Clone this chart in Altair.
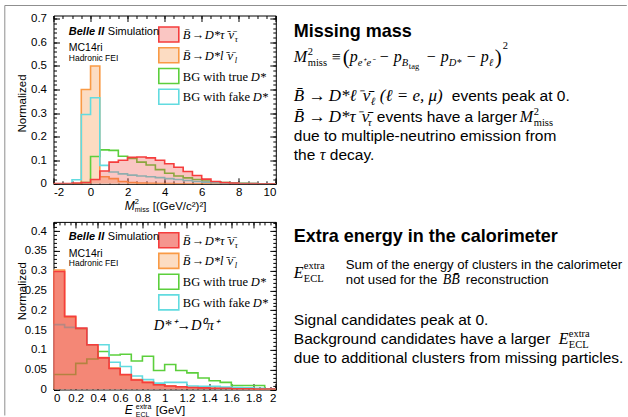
import altair as alt
import pandas as pd

SANS = "Liberation Sans"
SERIF = "Liberation Serif"

# ---------------- data: M^2_miss panel ----------------
m2_edges = [-2.0, -1.5, -1.0, -0.5, 0.0, 0.5, 1.0, 1.5, 2.0, 2.5, 3.0, 3.5,
            4.0, 4.5, 5.0, 5.5, 6.0, 6.5, 7.0, 7.5, 8.0, 8.5, 9.0, 9.5, 10.0]
m2_tau = [0.001, 0.001, 0.003, 0.005, 0.018, 0.054, 0.092, 0.100, 0.112, 0.114, 0.110, 0.100,
          0.085, 0.070, 0.052, 0.035, 0.020, 0.010, 0.005, 0.003, 0.001, 0.001, 0.0, 0.0]
m2_ell = [0.0, 0.0, 0.0, 0.400, 0.500, 0.030, 0.022, 0.010, 0.005, 0.003, 0.002, 0.001,
          0.001, 0.0, 0.0, 0.0, 0.0, 0.0, 0.0, 0.0, 0.0, 0.0, 0.0, 0.0]
m2_true = [0.0, 0.0, 0.0, 0.005, 0.116, 0.144, 0.142, 0.117, 0.108, 0.092, 0.080, 0.060,
           0.045, 0.033, 0.025, 0.018, 0.012, 0.008, 0.005, 0.003, 0.002, 0.001, 0.0, 0.0]
m2_fake = [0.0, 0.0, 0.017, 0.294, 0.365, 0.078, 0.050, 0.042, 0.037, 0.033, 0.030, 0.026,
           0.022, 0.018, 0.014, 0.010, 0.007, 0.005, 0.003, 0.002, 0.001, 0.001, 0.0, 0.0]
m2_xticks = [-2, 0, 2, 4, 6, 8, 10]
m2_yticks = [0, 0.1, 0.2, 0.3, 0.4, 0.5, 0.6, 0.7]

# ---------------- data: E_ECL^extra panel ----------------
e_edges = [0.0, 0.1, 0.2, 0.3, 0.4, 0.5, 0.6, 0.7, 0.8, 0.9, 1.0,
           1.1, 1.2, 1.3, 1.4, 1.5, 1.6, 1.7, 1.8, 1.9, 2.0]
e_tau = [0.298, 0.185, 0.155, 0.113, 0.080, 0.053, 0.038, 0.024, 0.018, 0.012,
         0.009, 0.007, 0.005, 0.004, 0.003, 0.003, 0.002, 0.002, 0.001, 0.001]
e_ell = [0.302, 0.183, 0.153, 0.112, 0.081, 0.054, 0.037, 0.025, 0.018, 0.012,
         0.009, 0.007, 0.005, 0.004, 0.003, 0.003, 0.002, 0.002, 0.001, 0.001]
e_true = [0.038, 0.038, 0.066, 0.077, 0.096, 0.087, 0.089, 0.072, 0.084, 0.048,
          0.063, 0.048, 0.042, 0.029, 0.022, 0.018, 0.010, 0.010, 0.010, 0.002]
e_fake = [0.164, 0.157, 0.154, 0.113, 0.113, 0.069, 0.058, 0.034, 0.025, 0.016,
          0.018, 0.018, 0.009, 0.008, 0.008, 0.006, 0.005, 0.004, 0.003, 0.002]
e_xticks = [0, 0.2, 0.4, 0.6, 0.8, 1, 1.2, 1.4, 1.6, 1.8, 2]
e_yticks = [0, 0.05, 0.1, 0.15, 0.2, 0.25, 0.3, 0.35, 0.4]

RED, ORANGE, GREEN, CYAN = "#f53d3d", "#f99a45", "#5ccf3c", "#62dbe0"
RED_FILL, ORANGE_FILL = "#ef4f43", "#fcdcc2"

OX = 52.7       # left edge of both plot areas (page px)
W = 222.3
ONE = pd.DataFrame({"d": [0]})


def area_df(edges, vals):
    xs = list(edges[:-1]) + [edges[-1]]
    ys = list(vals) + [vals[-1]]
    return pd.DataFrame({"x": xs, "y": ys})


def line_df(edges, vals):
    xs, ys = [edges[0]], [0.0]
    for i, v in enumerate(vals):
        xs += [edges[i], edges[i + 1]]
        ys += [v, v]
    xs.append(edges[-1]); ys.append(0.0)
    return pd.DataFrame({"i": list(range(len(xs))), "x": xs, "y": ys})


def panel(oy, H, edges, ser, xdom, ydom, xmaj, xmin, ymaj, ymin, xexpr,
          texts, boxes, red_op, extra=()):
    rx = lambda x: x - OX
    ry = lambda y: y - oy
    xs = alt.Scale(domain=xdom, nice=False, zero=False)
    ys = alt.Scale(domain=ydom, nice=False, zero=False)
    tau, ell, true, fake = ser
    L = []

    def area(vals, fill, op):
        return alt.Chart(area_df(edges, vals)).mark_area(
            interpolate="step-after", fill=fill, fillOpacity=op, clip=True).encode(
            x=alt.X("x:Q", scale=xs, axis=None), y=alt.Y("y:Q", scale=ys, axis=None))

    def line(vals, col):
        return alt.Chart(line_df(edges, vals)).mark_line(
            stroke=col, strokeWidth=1.6, clip=True).encode(
            x=alt.X("x:Q", scale=xs, axis=None), y=alt.Y("y:Q", scale=ys, axis=None),
            order="i:Q")

    L.append(area(ell, ORANGE_FILL, 1.0))
    L.append(line(ell, ORANGE))
    L.append(line(true, GREEN))
    L.append(line(fake, CYAN))
    L.append(area(tau, RED_FILL, red_op))
    L.append(line(tau, RED))

    # axes with inward ticks (ROOT style)
    adf = pd.DataFrame({"x": [xdom[0]], "y": [ydom[0]]})

    def axl(xo, yo, xv, yv, size, labels):
        common = dict(tickSize=size, offset=-size, domain=False, grid=False, title=None,
                      tickColor="black", tickWidth=1, labels=labels,
                      labelFont=SANS, labelFontSize=11.5, labelColor="black")
        xa = alt.Axis(orient=xo, values=xv, labelPadding=3, labelExpr=xexpr,
                      labelOverlap=False, **common)
        ya = alt.Axis(orient=yo, values=yv, labelPadding=7, format="~g",
                      labelOverlap=False, **common)
        return alt.Chart(adf).mark_point(opacity=0).encode(
            x=alt.X("x:Q", scale=xs, axis=xa), y=alt.Y("y:Q", scale=ys, axis=ya))

    L.append(axl("bottom", "left", xmaj, ymaj, 6, True))
    L.append(axl("bottom", "left", xmin, ymin, 3, False))
    L.append(axl("top", "right", xmaj, ymaj, 6, False))
    L.append(axl("top", "right", xmin, ymin, 3, False))

    # legend boxes
    for (x1, y1, x2, y2, fill, fop, stroke) in boxes:
        L.append(alt.Chart(ONE).mark_rect(fill=fill, fillOpacity=fop, stroke=stroke,
                                          strokeWidth=1.6).encode(
            x=alt.value(rx(x1)), x2=alt.value(rx(x2)), y=alt.value(ry(y1)), y2=alt.value(ry(y2))))

    for e in extra:
        L.append(e(rx, ry))

    for t in texts:
        s, x, y, size = t[:4]
        o = dict(font=SANS, fontStyle="normal", fontWeight="normal", align="left",
                 baseline="alphabetic", angle=0)
        if len(t) > 4:
            o.update(t[4])
        L.append(alt.Chart(ONE).mark_text(text=s, fontSize=size, color="black", **o).encode(
            x=alt.value(rx(x)), y=alt.value(ry(y))))

    return alt.layer(*L).resolve_axis(x="independent", y="independent").properties(
        width=W, height=H)


IT = {"font": SERIF, "fontStyle": "italic"}
RM = {"font": SERIF}
BI = {"fontStyle": "italic", "fontWeight": "bold"}
BOLD = {"fontWeight": "bold"}
ROT = {"angle": 270, "align": "center", "baseline": "middle"}


def legend_texts(b):
    # b = baseline of first row; spacing 20.7
    r = [b, b + 20.7, b + 41.5, b + 62.2]
    return [
        ("B\u0304", 182, r[0], 12.5, IT), ("\u2192", 191, r[0], 12.5, RM),
        ("D*\u03c4\u207b\u03bd\u0304", 204, r[0], 12.5, IT), ("\u03c4", 234, r[0] + 3, 8.5, IT),
        ("B\u0304", 182, r[1], 12.5, IT), ("\u2192", 191, r[1], 12.5, RM),
        ("D*l\u207b\u03bd\u0304", 204, r[1], 12.5, IT), ("l", 234, r[1] + 3, 8.5, IT),
        ("BG with true", 182, r[2], 12.5, RM), ("D*", 250, r[2], 12.5, IT),
        ("BG with fake", 182, r[3], 12.5, RM), ("D*", 252, r[3], 12.5, IT),
    ]


def legend_boxes(t, fill_op):
    r = [t, t + 20.7, t + 41.5, t + 62.2]
    return [
        (158, r[0], 178, r[0] + 15, RED_FILL, fill_op, RED),
        (158, r[1], 178, r[1] + 15, ORANGE_FILL, 1.0, ORANGE),
        (158, r[2], 178, r[2] + 15, "white", 1.0, GREEN),
        (158, r[3], 178, r[3] + 15, "white", 1.0, CYAN),
    ]


def sim_texts(b):
    return [
        ("Belle II", 68, b, 11, BI), ("Simulation", 107, b, 11),
        ("MC14ri", 68, b + 16.5, 10.5), ("Hadronic FEI", 68, b + 26, 8.5),
    ]


# ---- top panel texts ----
top_texts = sim_texts(34) + legend_texts(38.5) + [
    ("Normalized", 22, 103, 11.5, ROT),
    ("M", 124, 209, 12, {"fontStyle": "italic"}), ("2", 134, 203.5, 7.5),
    ("miss", 134, 212, 7), ("[(GeV/c\u00b2)\u00b2]", 152, 209, 11.5),
    # right-hand text
    ("Missing mass", 293, 36, 18, BOLD),
    ("M", 293, 61, 16, IT), ("2", 307, 54, 10.5, RM), ("miss", 307, 65, 10.5, RM),
    ("\u2261", 331, 61, 16, RM), ("(", 342, 63, 21, RM),
    ("p", 349, 61, 16, IT), ("e\u207ae\u207b", 357, 65, 10.5, IT),
    ("\u2212", 379, 61, 16, RM), ("p", 393, 61, 16, IT),
    ("B", 401, 65, 10.5, IT), ("tag", 408, 68, 8.5, RM),
    ("\u2212", 426, 61, 16, RM), ("p", 440, 61, 16, IT), ("D*", 448, 65, 10.5, IT),
    ("\u2212", 466, 61, 16, RM), ("p", 480, 61, 16, IT), ("\u2113", 488, 65, 10.5, IT),
    (")", 494, 63, 21, RM), ("2", 502, 48, 10.5, RM),
    ("B\u0304", 293, 100, 17, IT), ("\u2192", 308, 100, 17, RM),
    ("D*\u2113\u207b\u03bd\u0304", 328, 100, 17, IT), ("\u2113", 370, 104, 11, IT),
    ("(\u2113 = e, \u03bc)", 379, 100, 17, IT), ("events peak at 0.", 451, 100, 15.5),
    ("B\u0304", 293, 121, 17, IT), ("\u2192", 308, 121, 17, RM),
    ("D*\u03c4\u207b\u03bd\u0304", 328, 121, 17, IT), ("\u03c4", 367, 125, 11, IT),
    ("events have a larger", 376, 121, 15.5), ("M", 519, 121, 16, IT),
    ("2", 533, 114, 10.5, RM), ("miss", 533, 125, 10.5, RM),
    ("due to multiple-neutrino emission from", 293, 140, 15.5),
    ("the", 293, 159, 15.5), ("\u03c4", 319, 159, 16, IT), ("decay.", 329, 159, 15.5),
]

bot_texts = sim_texts(239) + legend_texts(243.5) + [
    ("Normalized", 22, 290, 11.5, ROT),
    ("D*\u207a\u2192D\u2070\u03c0\u207a", 153, 329, 14.5, IT),
    ("E", 124, 413, 12, {"fontStyle": "italic"}), ("extra", 135, 407.5, 7),
    ("ECL", 135, 415.5, 7), ("[GeV]", 155, 413, 11.5),
    ("Extra energy in the calorimeter", 293, 241, 18, BOLD),
    ("E", 293, 277, 16, IT), ("extra", 303, 268, 10.5, RM), ("ECL", 303, 281, 10.5, RM),
    ("Sum of the energy of clusters in the calorimeter", 345, 268, 13.2),
    ("not used for the", 345, 283, 13.2), ("BB\u0304", 442, 283, 14, IT),
    ("reconstruction", 465, 283, 13.2),
    ("Signal candidates peak at 0.", 293, 324, 15.5),
    ("Background candidates have a larger", 293, 343, 15.5),
    ("E", 558, 343, 16, IT), ("extra", 568, 336, 10.5, RM), ("ECL", 568, 347, 10.5, RM),
    ("due to additional clusters from missing particles.", 293, 362, 15.5),
]


def border(rx, ry):
    top = alt.Chart(ONE).mark_rule(color="#8f8f8f", strokeWidth=1).encode(
        x=alt.value(rx(4)), x2=alt.value(rx(626)), y=alt.value(ry(5)))
    left = alt.Chart(ONE).mark_rule(color="#8f8f8f", strokeWidth=1).encode(
        x=alt.value(rx(4)), y=alt.value(ry(5)), y2=alt.value(ry(415)))
    return alt.layer(top, left)


m2_minor = [-2 + 0.5 * k for k in range(25)]
m2_yminor = [round(0.02 * k, 2) for k in range(36)]
e_minor = [round(0.05 * k, 2) for k in range(41)]
e_yminor = [round(0.01 * k, 2) for k in range(43)]

top = panel(15, 168.3, m2_edges, (m2_tau, m2_ell, m2_true, m2_fake),
            [-2, 10], [0, 0.714], m2_xticks, m2_minor, m2_yticks, m2_yminor,
            "replace(datum.label, '\u2212', '-')",
            top_texts, legend_boxes(26.5, 0.32), 0.32, extra=(border,))

bottom = panel(220.7, 167.6, e_edges, (e_tau, e_ell, e_true, e_fake),
               [0, 2], [0, 0.4235], e_xticks, e_minor, e_yticks, e_yminor,
               "format(datum.value, '~g')",
               bot_texts, legend_boxes(231.5, 0.6), 0.6)

chart = alt.vconcat(top, bottom, spacing=37.4, bounds="flush").properties(
    padding={"left": 3.5, "top": 4.5, "right": 0, "bottom": 0},
    background="white",
).configure_view(stroke="black", strokeWidth=1)

chart.save("out.html", embed_options={"renderer": "svg", "actions": False})
